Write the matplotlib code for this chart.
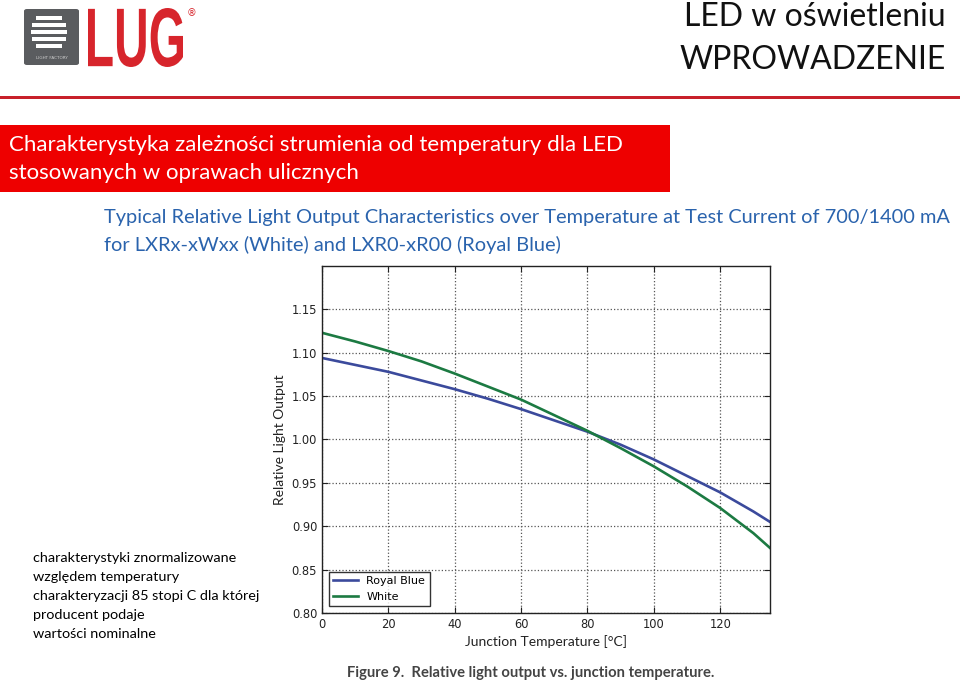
import matplotlib.pyplot as plt
import matplotlib.patches as mpatches
from matplotlib.textpath import TextPath
from matplotlib.font_manager import FontProperties
from matplotlib.transforms import Affine2D

# data
temp = [0, 10, 20, 30, 40, 50, 60, 70, 80, 90, 100, 110, 120, 130, 135]
royal_blue = [1.094, 1.086, 1.078, 1.068, 1.058, 1.047, 1.035, 1.022, 1.009,
              0.994, 0.977, 0.958, 0.939, 0.917, 0.905]
white = [1.123, 1.113, 1.102, 1.090, 1.076, 1.061, 1.046, 1.028, 1.010,
         0.990, 0.969, 0.946, 0.921, 0.892, 0.875]
yticks = [0.80, 0.85, 0.90, 0.95, 1.00, 1.05, 1.10, 1.15]
xticks = [0, 20, 40, 60, 80, 100, 120]

note_lines = ["charakterystyki znormalizowane",
              "względem temperatury",
              "charakteryzacji 85 stopi C dla której",
              "producent podaje",
              "wartości nominalne"]

W, H = 960, 681
fig = plt.figure(figsize=(W / 100, H / 100), dpi=100)
fig.patch.set_facecolor('white')

def fx(x):
    return x / W

def fy(y):
    return 1 - y / H

slide_font = ['Lato', 'DejaVu Sans']

# --- header: logo ---
logo = mpatches.FancyBboxPatch((fx(24), fy(65)), fx(55), 56 / H,
                               boxstyle='round,pad=0,rounding_size=0.003',
                               transform=fig.transFigure, facecolor='#5a5c5f',
                               edgecolor='none')
fig.patches.append(logo)
for i, (x0, w) in enumerate([(36, 26), (32, 34), (31, 36), (32, 34), (36, 26)]):
    y0 = 16 + i * 7
    fig.patches.append(mpatches.Rectangle((fx(x0), fy(y0 + 4)), fx(w), 4 / H,
                                          transform=fig.transFigure,
                                          facecolor='white', edgecolor='none'))
fig.text(fx(51.5), fy(58), 'LIGHT FACTORY', fontsize=3, color='#d0d0d0',
         ha='center', va='center')

# condensed "LUG" lettering: squeeze a bold text path into the logo box
tp = TextPath((0, 0), 'LUG', size=100,
              prop=FontProperties(family='Liberation Sans', weight='bold'))
bb = tp.get_extents()
sx = (183 - 88) / bb.width
sy = (67 - 8) / bb.height
lug = mpatches.PathPatch(tp, facecolor='#d7252c', edgecolor='none',
                         transform=Affine2D().translate(-bb.x0, -bb.y0)
                         .scale(sx, sy).translate(88, H - 67)
                         .scale(1 / W, 1 / H) + fig.transFigure)
fig.patches.append(lug)
fig.text(fx(191), fy(13), '®', fontsize=7, color='#d7252c', ha='center', va='center')

# --- header: title ---
fig.text(fx(946), fy(17), 'LED w oświetleniu', fontsize=23, color='#111111',
         family=slide_font, ha='right', va='center')
fig.text(fx(946), fy(60), 'WPROWADZENIE', fontsize=23, color='#111111',
         family=slide_font, ha='right', va='center')

# red rule under header
fig.patches.append(mpatches.Rectangle((0, fy(99)), 1, 3 / H, transform=fig.transFigure,
                                      facecolor='#c8202a', edgecolor='none'))

# red banner
fig.patches.append(mpatches.Rectangle((0, fy(192)), fx(670), 67 / H,
                                      transform=fig.transFigure,
                                      facecolor='#ee0000', edgecolor='none'))
fig.text(fx(9), fy(145), 'Charakterystyka zależności strumienia od temperatury dla LED',
         fontsize=16, color='white', family=slide_font, ha='left', va='center')
fig.text(fx(9), fy(173), 'stosowanych w oprawach ulicznych',
         fontsize=16, color='white', family=slide_font, ha='left', va='center')

# datasheet subtitle
sub_col = '#2a63ad'
fig.text(fx(104), fy(217), 'Typical Relative Light Output Characteristics over '
         'Temperature at Test Current of 700/1400 mA',
         fontsize=14.4, color=sub_col, family=slide_font, ha='left', va='center')
fig.text(fx(104), fy(245), 'for LXRx-xWxx (White) and LXR0-xR00 (Royal Blue)',
         fontsize=14.4, color=sub_col, family=slide_font, ha='left', va='center')

# side note
for i, line in enumerate(note_lines):
    fig.text(fx(33), fy(558 + i * 19), line, fontsize=10.4, color='black',
             family=slide_font, ha='left', va='center')

# caption
fig.text(fx(347), fy(673), 'Figure 9.  Relative light output vs. junction temperature.',
         fontsize=10.6, fontweight='bold', color='#444444', family=slide_font,
         ha='left', va='center')

# --- chart ---
ax = fig.add_axes([fx(322), fy(613), fx(770 - 322), (613 - 266) / H])
ax.plot(temp, royal_blue, color='#3b4a9c', lw=1.9, label='Royal Blue')
ax.plot(temp, white, color='#1c7a42', lw=1.9, label='White')
ax.set_xlim(0, 135)
ax.set_ylim(0.80, 1.20)
ax.set_xticks(xticks)
ax.set_yticks(yticks)
ax.set_yticklabels(['%.2f' % v for v in yticks])
ax.tick_params(direction='in', labelsize=8.3, length=4, top=True, right=True,
               colors='#222222')
ax.grid(True, linestyle=':', color='#555555', lw=0.9)
for s in ax.spines.values():
    s.set_linewidth(1.0)
    s.set_color('#222222')
ax.set_xlabel('Junction Temperature [°C]', fontsize=10, family=slide_font,
              color='#222222', labelpad=3)
ax.set_ylabel('Relative Light Output', fontsize=10, family=slide_font,
              color='#222222', labelpad=4)
leg = ax.legend(loc='lower left', fontsize=8, frameon=True, fancybox=False,
                borderaxespad=0.6, handlelength=2.2)
leg.get_frame().set_edgecolor('black')
leg.get_frame().set_linewidth(1.0)

fig.savefig('out.png', dpi=100)
